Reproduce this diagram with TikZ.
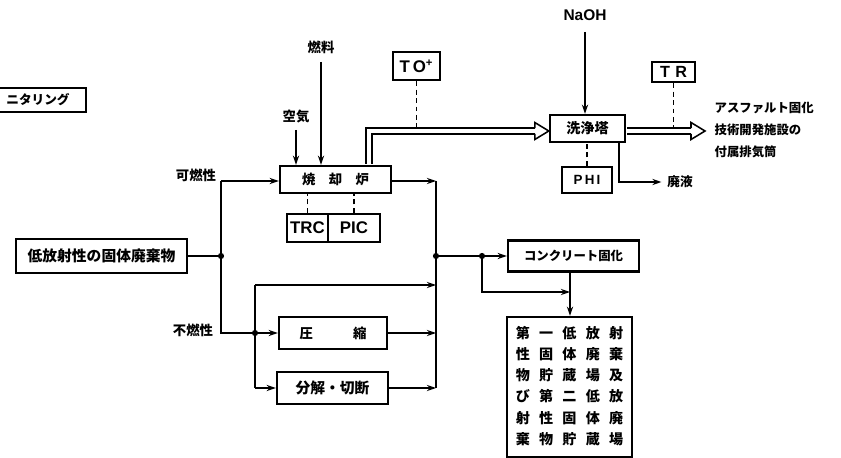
\documentclass[tikz,border=0pt]{standalone}
\usepackage{fontspec}
\newfontfamily\jp{Noto Sans CJK JP}
\newfontfamily\lat{Liberation Sans}
\usetikzlibrary{arrows.meta}
\tikzset{hollowhead/.pic={\draw[line width=1.1pt,line join=miter] (-14,-2.8) -- (-14,-8.5) -- (0,0) -- (-14,8.5) -- (-14,2.8);}}
\begin{document}
\begin{tikzpicture}[x=0.025cm,y=-0.025cm,
  box/.style={draw,line width=1.7pt,inner sep=0pt,font=\jp\bfseries\fontsize{9.5}{11}\selectfont},
  tag/.style={inner sep=1pt,font=\jp\bfseries\fontsize{9.5}{11}\selectfont},
  flow/.style={line width=1.4pt,-{Stealth[length=6.5pt,width=4.4pt]}},
  wire/.style={line width=1.4pt},
  sig/.style={line width=1.4pt,dash pattern=on 3.5pt off 2.5pt},
  gas/.style={line width=1.1pt,double distance=2.8pt,line join=miter,shorten <=0.85pt,shorten >=10pt}]
\useasboundingbox (0,0) rectangle (841,458);
\fill[white] (0,0) rectangle (841,458);
\node[box,minimum width=2.4cm,minimum height=0.6cm,font=\jp\bfseries\fontsize{9}{11}\selectfont] (mon) at (38,100) {ニタリング};
\node[tag] (nenryo) at (321,47) {燃料};
\node[tag] (kuki) at (296,117) {空気};
\node[tag] (kanen) at (196,175) {可燃性};
\node[tag] (funen) at (193,330) {不燃性};
\node[tag,font=\lat\bfseries\fontsize{11}{13}\selectfont] (naoh) at (585,15) {NaOH};
\node[tag,font=\jp\bfseries\fontsize{9}{11}\selectfont] (haieki) at (680,182) {廃液};
\node[tag,anchor=west,align=left,font=\jp\bfseries\fontsize{8.8}{15.6}\selectfont] (outl) at (713,130) {アスファルト固化\\技術開発施設の\\付属排気筒};
\node[box,minimum width=2.775cm,minimum height=0.675cm] (inc) at (335.5,179.5) {焼　却　炉};
\node[box,minimum width=1.025cm,minimum height=0.7cm,font=\lat\bfseries\fontsize{12}{14}\selectfont] (trc) at (307.5,228) {TRC};
\node[box,minimum width=1.3cm,minimum height=0.7cm,font=\lat\bfseries\fontsize{12}{14}\selectfont] (picb) at (354,228) {PIC};
\node[box,minimum width=4.275cm,minimum height=0.85cm,font=\jp\bfseries\fontsize{10.5}{12}\selectfont] (waste) at (101.5,256) {低放射性の固体廃棄物};
\node[box,minimum width=2.7cm,minimum height=0.8cm] (comp) at (333,333) {圧　　　縮};
\node[box,minimum width=2.775cm,minimum height=0.8cm,font=\jp\bfseries\fontsize{10.5}{12}\selectfont] (cut) at (332.5,388) {分解・切断};
\node[box,minimum width=3.275cm,minimum height=0.775cm,font=\jp\bfseries\fontsize{8.8}{11}\selectfont] (conc) at (573.5,256) {コンクリート固化};
\node[box,minimum width=3.125cm,minimum height=3.5cm,font=\jp\bfseries\fontsize{10}{12}\selectfont] (store) at (569.5,387)
  {\setlength{\tabcolsep}{3.3pt}\renewcommand{\arraystretch}{1.26}\begin{tabular}{@{}ccccc@{}}
  第&一&低&放&射\\性&固&体&廃&棄\\物&貯&蔵&場&及\\び&第&二&低&放\\射&性&固&体&廃\\棄&物&貯&蔵&場\end{tabular}};
\node[box,minimum width=1.175cm,minimum height=0.7cm,font=\lat\bfseries\fontsize{12}{14}\selectfont] (tox) at (416.5,66) {T\,O\textsuperscript{+}};
\node[box,minimum width=1.875cm,minimum height=0.675cm,font=\jp\bfseries\fontsize{10}{12}\selectfont] (scrub) at (587.5,128.5) {洗浄塔};
\node[box,minimum width=1.25cm,minimum height=0.65cm,font=\lat\bfseries\fontsize{9.5}{11}\selectfont] (phi) at (587,180) {P\,H\,I};
\node[box,minimum width=1.075cm,minimum height=0.5cm,font=\lat\bfseries\fontsize{11.5}{13}\selectfont] (tr) at (673.5,72) {T\,\,R};

\coordinate (j1) at (221,256);
\coordinate (b1) at (221,181);
\coordinate (b2) at (221,333);
\coordinate (j2) at (255,333);
\coordinate (c1) at (255,285);
\coordinate (c2) at (255,388);
\coordinate (m1) at (436,181);
\coordinate (m2) at (436,388);
\coordinate (j3) at (436,256);
\coordinate (j4) at (482,256);
\coordinate (c3) at (570,292);
\coordinate (g1) at (369,131);
\coordinate (g2) at (705,131);
\coordinate (w1) at (619,182);

\draw[flow] (nenryo) ++(0,15) -- (nenryo |- inc.north);
\draw[flow] (kuki) ++(0,13) -- (kuki |- inc.north);
\draw[flow] (naoh) ++(0,17) -- (naoh |- scrub.north);
\draw[wire] (waste.east) -- (j1);
\draw[wire] (b1) -- (b2) -- (j2);
\draw[flow] (b1) -- (b1 -| inc.west);
\draw[flow] (j2) -- (comp.west);
\draw[wire] (c1) -- (c2);
\draw[flow] (c2) -- (cut.west);
\draw[flow] (c1) -- (c1 -| m1);
\draw[flow] (inc.east |- m1) -- (m1);
\draw[flow] (comp.east) -- (comp.east -| m1);
\draw[flow] (cut.east) -- (m2);
\draw[wire] (m1) -- (m2);
\draw[flow] (j3) -- (conc.west);
\draw[flow] (j4) |- (c3);
\draw[flow] (conc.south -| c3) -- (store.north -| c3);
\draw[flow] (scrub.south -| w1) |- ([xshift=-3pt]haieki.west);
\foreach \j in {j1,j2,j3,j4} \fill (\j) circle (2.2pt);

\draw[sig] (tox.south) -- (tox.south |- g1);
\draw[sig] (tr.south) -- (tr.south |- g1);
\draw[sig] (trc.north) -- (trc.north |- inc.south);
\draw[sig] (picb.north) -- (picb.north |- inc.south);
\draw[sig] (phi.north) -- (phi.north |- scrub.south);

\draw[gas] (inc.north -| g1) -- (g1) -- (g1 -| scrub.west);
\pic at (g1 -| scrub.west) {hollowhead};
\draw[gas] (scrub.east |- g1) -- (g2);
\pic at (g2) {hollowhead};
\end{tikzpicture}
\end{document}
